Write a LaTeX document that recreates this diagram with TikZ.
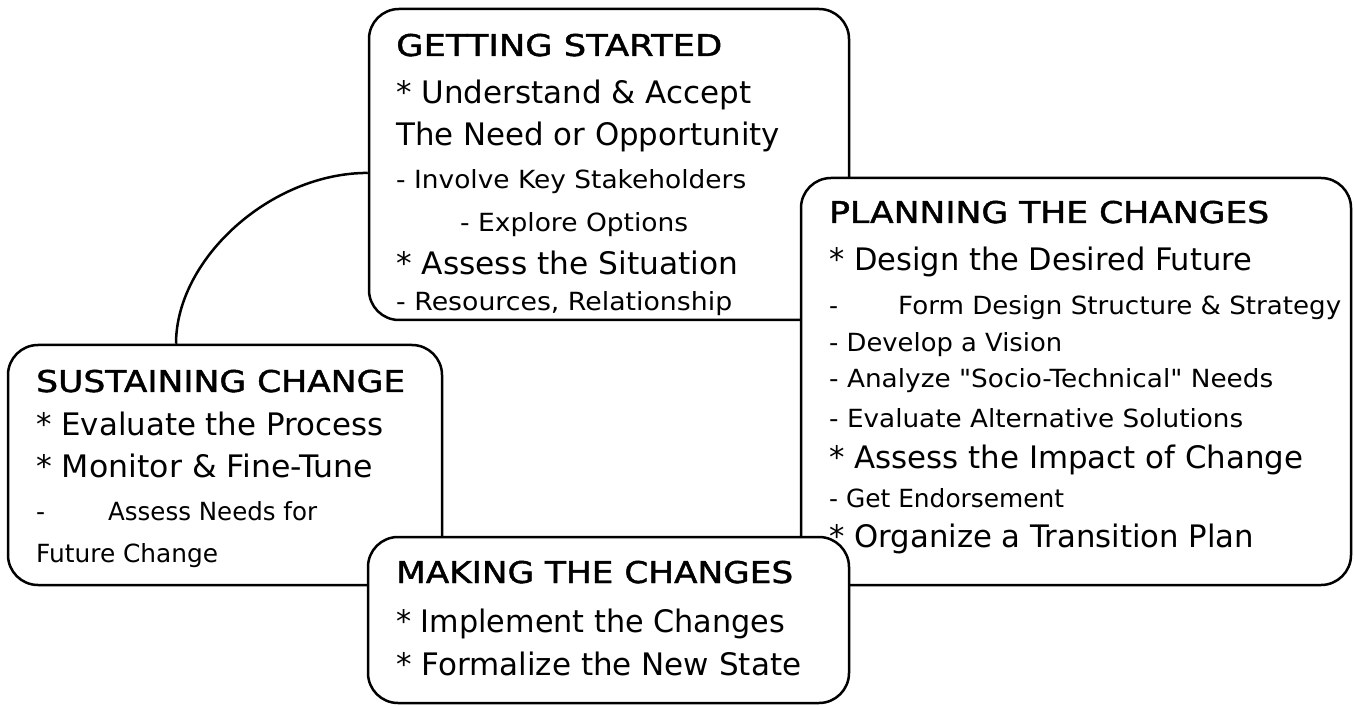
\documentclass[tikz,border=0pt]{standalone}
\usepackage{fontspec}
\newfontfamily\dvs{DejaVu Sans}
\newfontfamily\dvsh{DejaVu Sans}[FakeBold=1.3]
\usepackage{graphicx}
\newcommand{\fitline}[3]{\resizebox{#2pt}{\height}{\dvs\fontsize{#1}{#1}\selectfont #3}}
\newcommand{\headline}[3]{\resizebox{#2pt}{\height}{\dvsh\fontsize{#1}{#1}\selectfont #3}}
\newcommand{\gapline}[4]{\makebox[#2pt][s]{\dvs\fontsize{#1}{#1}\selectfont -\hfill\resizebox{#3pt}{\height}{\dvs\fontsize{#1}{#1}\selectfont #4}}}
\begin{document}
\begin{tikzpicture}[x=1pt,y=1pt,
  box/.style={draw, line width=2.5pt, fill=white, rounded corners=30pt, rectangle, inner sep=0pt},
  txt/.style={anchor=base west, inner sep=0pt},
  conn/.style={draw, line width=2.5pt}]
\useasboundingbox (0,0) rectangle (1354,705);

% SUSTAINING CHANGE
\node[box, minimum width=434pt, minimum height=240pt] (sus) at (225,240) {};
\node[txt] (sus1) at (36,313) {\headline{30}{369}{SUSTAINING CHANGE}};
\node[txt] (sus2) at (36,270) {\fitline{31}{347}{* Evaluate the Process}};
\node[txt] (sus3) at (36,228) {\fitline{31}{337}{* Monitor \& Fine-Tune}};
\node[txt] (sus4) at (36,185) {\gapline{25}{281}{209}{Assess Needs for}};
\node[txt] (sus5) at (36,143) {\fitline{25}{182}{Future Change}};

% GETTING STARTED
\node[box, minimum width=480pt, minimum height=311pt] (gs) at (609,540.5) {};
\node[txt] (gs1) at (396,649) {\headline{30}{326}{GETTING STARTED}};
\node[txt] (gs2) at (396,601) {\fitline{31}{355}{* Understand \& Accept}};
\node[txt] (gs3) at (396,559) {\fitline{31}{384}{The Need or Opportunity}};
\node[txt] (gs4) at (396,516) {\fitline{25}{350}{- Involve Key Stakeholders}};
\node[txt] (gs5) at (460,473) {\fitline{25}{228}{- Explore Options}};
\node[txt] (gs6) at (396,430) {\fitline{31}{342}{* Assess the Situation}};
\node[txt] (gs7) at (396,394) {\fitline{25}{336}{- Resources, Relationship}};

% PLANNING THE CHANGES
\node[box, minimum width=550pt, minimum height=407pt] (pl) at (1076,323.5) {};
\node[txt] (pl1) at (829,482) {\headline{30}{440}{PLANNING THE CHANGES}};
\node[txt] (pl2) at (829,434) {\fitline{31}{423}{* Design the Desired Future}};
\node[txt] (pl3) at (829,390) {\gapline{25}{512}{443}{Form Design Structure \& Strategy}};
\node[txt] (pl4) at (829,353) {\fitline{25}{233}{- Develop a Vision}};
\node[txt] (pl5) at (829,318) {\fitline{25}{444}{- Analyze "Socio-Technical" Needs}};
\node[txt] (pl6) at (829,278) {\fitline{25}{414}{- Evaluate Alternative Solutions}};
\node[txt] (pl7) at (829,237) {\fitline{31}{474}{* Assess the Impact of Change}};
\node[txt] (pl8) at (829,198) {\fitline{25}{235}{- Get Endorsement}};
\node[txt] (pl9) at (829,158) {\fitline{31}{425}{* Organize a Transition Plan}};

% MAKING THE CHANGES
\node[box, minimum width=481pt, minimum height=166pt] (mk) at (608.5,85) {};
\node[txt] (mk1) at (396,122) {\headline{30}{397}{MAKING THE CHANGES}};
\node[txt] (mk2) at (396,73) {\fitline{31}{389}{* Implement the Changes}};
\node[txt] (mk3) at (396,30) {\fitline{31}{405}{* Formalize the New State}};

% connector
\draw[conn] (gs.182.7) .. controls +(-97,0) and +(0,85) .. (sus.112.6);
\end{tikzpicture}
\end{document}
